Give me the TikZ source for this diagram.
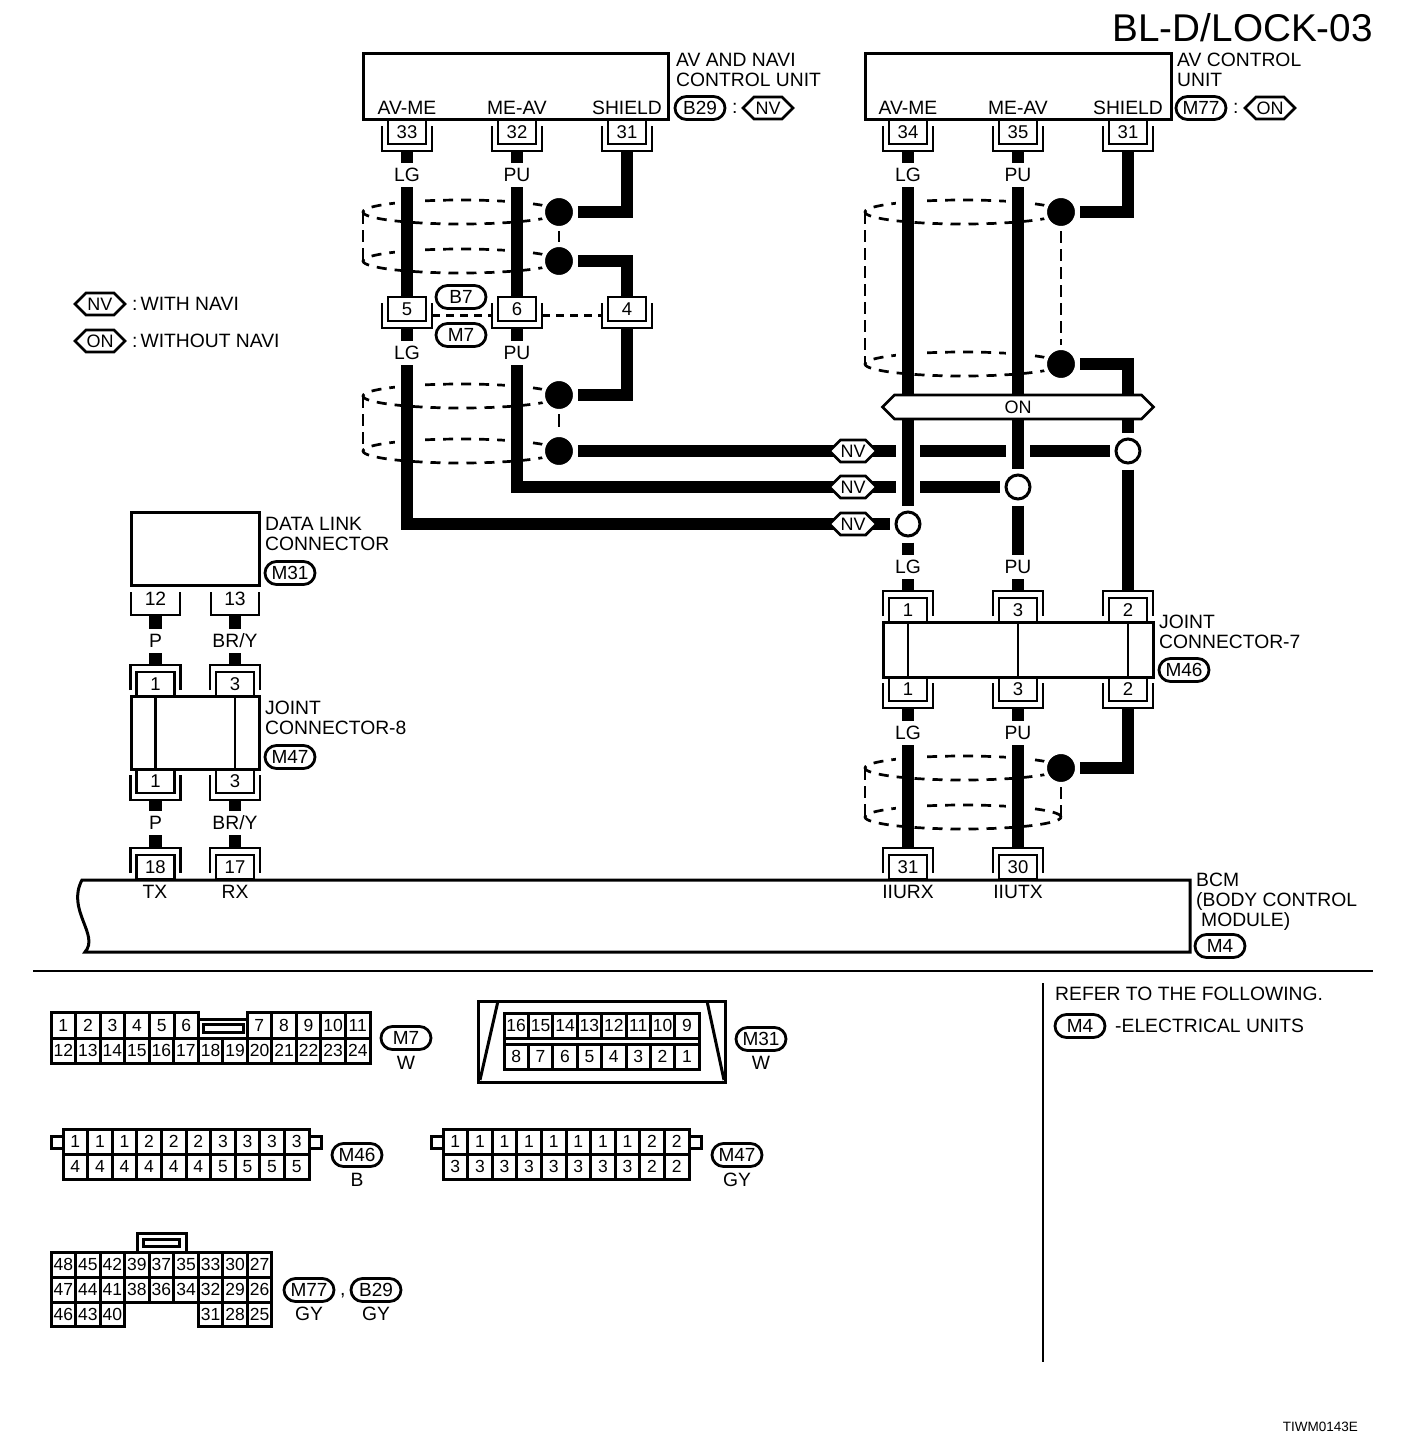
\documentclass[tikz,border=0pt]{standalone}
\usepackage{fontspec}
\setmainfont{Liberation Sans}
\usetikzlibrary{shapes.misc,shapes.symbols}
\pgfdeclarelayer{paper}
\pgfdeclarelayer{shields}
\pgfdeclarelayer{wires}
\pgfsetlayers{paper,shields,wires,main}
\tikzset{
  lab/.style={font=\fontsize{19.3}{19.7}\selectfont,inner sep=0pt,text height=13.8pt,text depth=0pt},
  txt/.style={lab,anchor=west},
  multi/.style={font=\fontsize{19.3}{19.7}\selectfont,inner sep=0pt,align=left,anchor=north west},
  wl/.style={lab,minimum height=24pt},
  unitbox/.style={draw,line width=3pt,outer sep=0pt,inner sep=0pt,anchor=north west},
  pinbox/.style={draw,line width=2.8pt,outer sep=0pt,inner sep=0pt,minimum width=38pt,minimum height=24pt,
     font=\fontsize{18.5}{20}\selectfont,text height=13pt,text depth=0pt},
  pinline/.style={line width=2.8pt,miter limit=10},
  wire/.style={line width=12.5pt,line join=miter},
  shieldline/.style={line width=2.7pt,dash pattern=on 10pt off 8pt},
  shieldrun/.style={line width=2.7pt,dash pattern=on 12pt off 6pt},
  blackdot/.style={circle,fill=black,draw=white,line width=4pt,minimum size=32pt,inner sep=0pt,outer sep=3pt},
  opendot/.style={circle,fill=white,draw=black,line width=3pt,minimum size=24pt,inner sep=0pt,outer sep=6.5pt},
  ovaltag/.style={draw,rounded rectangle,line width=2.8pt,minimum width=50pt,minimum height=23pt,inner sep=0pt,
     font=\fontsize{19}{20}\selectfont,text height=13.6pt,text depth=0pt},
  flag/.style={draw,fill=white,signal,signal to=east and west,signal pointer angle=90,line width=2.8pt,
     inner sep=0pt,font=\fontsize{18}{20}\selectfont,text height=13pt,text depth=0pt},
  cellbox/.style={draw,line width=3pt,outer sep=0pt,inner sep=0pt,
     font=\fontsize{17.5}{20}\selectfont,text height=12.6pt,text depth=0pt},
  frameline/.style={line width=3pt},
}
\newcommand{\pinD}[4]{% name, x, top y, label
  \node[pinbox,anchor=north] (#1) at (#2,#3) {#4};
  \draw[pinline] (#2-25,#3+6) -- (#2-25,#3+31) -- (#2+25,#3+31) -- (#2+25,#3+6);
  \coordinate (#1b) at (#2,#3+31);}
\newcommand{\pinT}[4]{% name, x, bottom y, label
  \node[pinbox,anchor=south] (#1) at (#2,#3) {#4};
  \draw[pinline] (#2-25,#3-6) -- (#2-25,#3-31) -- (#2+25,#3-31) -- (#2+25,#3-6);
  \coordinate (#1t) at (#2,#3-31);}
\newcommand{\ring}[4]{% centre x, centre y, wire x, wire x
  \begin{pgfonlayer}{shields}
  \draw[shieldline] (#1,#2) ellipse [x radius=98pt,y radius=12pt];
  \fill[white] (#3-12,#2-15) rectangle (#3+12,#2-6);
  \fill[white] (#4-12,#2-15) rectangle (#4+12,#2-6);
  \end{pgfonlayer}}
\newcommand{\cellrow}[6]{% prefix, x0, y0, w, h, list
  \foreach \n [count=\i from 0] in {#6}{
    \node[cellbox,minimum width=#4pt,minimum height=#5pt,anchor=north west] (#1\i) at ({#2+\i*#4},#3) {\n};}}
\begin{document}
\begin{tikzpicture}[x=1pt,y=-1pt]
\useasboundingbox (0,0) rectangle (1408,1446);
\begin{pgfonlayer}{paper}\fill[white] (0,0) rectangle (1408,1446);\end{pgfonlayer}

% title
\node[inner sep=0pt,anchor=east,font=\fontsize{38.7}{40}\selectfont,text height=27.7pt,text depth=0pt] (title) at (1373,28) {BL-D/LOCK-03};

% units
\node[unitbox,minimum width=305pt,minimum height=66pt] (u1) at (363,53) {};
\node[unitbox,minimum width=306pt,minimum height=66pt] (u2) at (865,53) {};
\node[lab] (u1a) at (407,108) {AV-ME};
\node[lab] (u1b) at (517,108) {ME-AV};
\node[lab] (u1c) at (627,108) {SHIELD};
\node[lab] (u2a) at (908,108) {AV-ME};
\node[lab] (u2b) at (1018,108) {ME-AV};
\node[lab] (u2c) at (1128,108) {SHIELD};
\node[multi] (u1t) at (676,53) {AV AND NAVI\\CONTROL UNIT};
\node[multi] (u2t) at (1177,53) {AV CONTROL\\UNIT};
\node[ovaltag] (tb29) at (700,108) {B29};
\node[txt] (c1) at (732,107) {:};
\node[flag,minimum width=50pt,minimum height=22pt] (fnv) at (768,108) {NV};
\node[ovaltag] (tm77) at (1201,108) {M77};
\node[txt] (c2) at (1233,107) {:};
\node[flag,minimum width=50pt,minimum height=22pt] (fon) at (1270,108) {ON};

% legend
\node[flag,minimum width=50pt,minimum height=22pt] (lnv) at (100,304) {NV};
\node[txt] (lnvt) at (132,304) {:\hspace{3pt}WITH NAVI};
\node[flag,minimum width=50pt,minimum height=22pt] (lon) at (100,341) {ON};
\node[txt] (lont) at (132,341) {:\hspace{3pt}WITHOUT NAVI};

% pins, left group
\pinD{p33}{407}{120}{33}
\pinD{p32}{517}{120}{32}
\pinD{p31a}{627}{120}{31}
\pinD{p5}{407}{297}{5}
\pinD{p6}{517}{297}{6}
\pinD{p4}{627}{297}{4}
\node[ovaltag] (tb7) at (461,297) {B7};
\node[ovaltag] (tm7) at (461,335) {M7};
\draw[line width=3pt,dash pattern=on 8pt off 6pt] ([xshift=6pt,yshift=-6pt]p5.east) -- ([xshift=-6pt,yshift=-6pt]p6.west);
\draw[line width=3pt,dash pattern=on 8pt off 6pt] ([xshift=6pt,yshift=-6pt]p6.east) -- ([xshift=-6pt,yshift=-6pt]p4.west);

% pins, right group
\pinD{p34}{908}{120}{34}
\pinD{p35}{1018}{120}{35}
\pinD{p31b}{1128}{120}{31}

% joint connector 7
\node[unitbox,minimum width=270pt,minimum height=55pt] (j7) at (883,622) {};
\draw[line width=2pt] (908,622) -- (908,677) (1018,622) -- (1018,677);
\draw[line width=2.6pt] (1128,622) -- (1128,677);
\pinT{j7t1}{908}{622}{1}
\pinT{j7t3}{1018}{622}{3}
\pinT{j7t2}{1128}{622}{2}
\pinD{j7b1}{908}{677}{1}
\pinD{j7b3}{1018}{677}{3}
\pinD{j7b2}{1128}{677}{2}
\node[multi] (j7l) at (1159,615) {JOINT\\CONNECTOR-7};
\node[ovaltag] (tm46) at (1184,670) {M46};

% BCM
\draw[line width=3pt] (85,952) .. controls (100,935) and (66,910) .. (82,880) -- (1190,880) -- (1190,952) -- cycle;
\pinT{b31}{908}{879}{31}
\pinT{b30}{1018}{879}{30}
\pinT{b18}{155.5}{879}{18}
\pinT{b17}{235}{879}{17}
\node[lab] (tx) at (155,892) {TX};
\node[lab] (rx) at (235,892) {RX};
\node[lab] (iurx) at (908,892) {IIURX};
\node[lab] (iutx) at (1018,892) {IIUTX};
\node[multi] (bcmt) at (1196,873) {BCM\\(BODY CONTROL\\\hspace*{5pt}MODULE)};
\node[ovaltag] (tm4) at (1220,946) {M4};

% data link connector
\node[unitbox,minimum width=128pt,minimum height=73pt] (dl) at (131,512) {};
\node[multi] (dlt) at (265,517) {DATA LINK\\CONNECTOR};
\node[ovaltag] (tm31) at (290,573) {M31};
\node[lab] (dl12) at (155.5,599) {12};
\node[lab] (dl13) at (235,599) {13};
\draw[pinline] (131,592) -- (131,615) -- (180,615) -- (180,592);
\draw[pinline] (211,592) -- (211,615) -- (259,615) -- (259,592);
\coordinate (dl12b) at (155.5,615);
\coordinate (dl13b) at (235,615);

% joint connector 8
\node[unitbox,minimum width=128pt,minimum height=73pt] (j8) at (131,696) {};
\draw[line width=2.6pt] (155.5,696) -- (155.5,769) (235,696) -- (235,769);
\pinT{j8t1}{155.5}{696}{1}
\pinT{j8t3}{235}{696}{3}
\pinD{j8b1}{155.5}{769}{1}
\pinD{j8b3}{235}{769}{3}
\node[multi] (j8l) at (265,701) {JOINT\\CONNECTOR-8};
\node[ovaltag] (tm47) at (290,757) {M47};

% wire colour labels
\node[wl] (l1) at (407,175) {LG};
\node[wl] (l2) at (517,175) {PU};
\node[wl] (l3) at (407,353) {LG};
\node[wl] (l4) at (517,353) {PU};
\node[wl] (r1) at (908,175) {LG};
\node[wl] (r2) at (1018,175) {PU};
\node[wl] (r3) at (908,567) {LG};
\node[wl] (r4) at (1018,567) {PU};
\node[wl] (r5) at (908,733) {LG};
\node[wl] (r6) at (1018,733) {PU};
\node[wl] (w1) at (155.5,641) {P};
\node[wl] (w2) at (235,641) {BR/Y};
\node[wl] (w3) at (155.5,823) {P};
\node[wl] (w4) at (235,823) {BR/Y};

% shield splices
\node[blackdot] (d1) at (559,212) {};
\node[blackdot] (d2) at (559,261) {};
\node[blackdot] (d3) at (559,395) {};
\node[blackdot] (d4) at (559,451) {};
\node[blackdot] (d5) at (1061,212) {};
\node[blackdot] (d6) at (1061,364) {};
\node[blackdot] (d7) at (1061,768) {};
\node[opendot] (o1) at (908,524) {};
\node[opendot] (o2) at (1018,487) {};
\node[opendot] (o3) at (1128,451) {};
\node[flag,minimum width=47pt,minimum height=22pt] (nv1) at (853,451) {NV};
\node[flag,minimum width=47pt,minimum height=22pt] (nv2) at (853,487) {NV};
\node[flag,minimum width=47pt,minimum height=22pt] (nv3) at (853,524) {NV};
\node[flag,minimum width=271pt,minimum height=24pt] (onf) at (1018,407) {ON};

\coordinate (g1a) at (896,451);
\coordinate (g1b) at (920,451);
\coordinate (g1c) at (1006,451);
\coordinate (g1d) at (1030,451);
\coordinate (g2a) at (896,487);
\coordinate (g2b) at (920,487);

% shields
\ring{461}{212}{407}{517}
\ring{461}{261}{407}{517}
\ring{461}{396}{407}{517}
\ring{461}{451}{407}{517}
\ring{963}{212}{908}{1018}
\ring{963}{364}{908}{1018}
\ring{963}{768}{908}{1018}
\ring{963}{817}{908}{1018}
\begin{pgfonlayer}{shields}
\draw[shieldrun] (363,212) -- (363,261);
\draw[shieldrun] (363,396) -- (363,451);
\draw[shieldrun] (865,212) -- (865,364);
\draw[shieldrun] (865,768) -- (865,817);
\end{pgfonlayer}
\draw[line width=2.8pt] (d1.south) -- (d2.north);
\draw[line width=2.8pt,shorten >=5pt] (d3.south) -- (d4.north);
\draw[shieldrun] (d5.south) -- (d6.north);
\coordinate (d7e) at (1061,820);
\draw[shieldrun] (d7.south) -- (d7e);

% wires
\begin{pgfonlayer}{wires}
\draw[wire] (p33b) -- (l1.north);
\draw[wire] (l1.south) -- (p5.north);
\draw[wire] (p32b) -- (l2.north);
\draw[wire] (l2.south) -- (p6.north);
\draw[wire] (d1.east) -| (p31ab);
\draw[wire] (d2.east) -| (p4.north);
\draw[wire] (d3.east) -| (p4b);
\draw[wire] (p5b) -- (l3.north);
\draw[wire] (p6b) -- (l4.north);
\draw[wire] (l3.south) |- (nv3.center);
\draw[wire] (l4.south) |- (nv2.center);
\draw[wire] (d4.east) -- (nv1.center);
\draw[wire] (nv1.center) -- (g1a);
\draw[wire] (g1b) -- (g1c);
\draw[wire] (g1d) -- (o3.west);
\draw[wire] (nv2.center) -- (g2a);
\draw[wire] (g2b) -- (o2.west);
\draw[wire] (nv3.center) -- (o1.west);
\draw[wire] (p34b) -- (r1.north);
\draw[wire] (r1.south) -- (o1.north);
\draw[wire] (o1.south) -- (r3.north);
\draw[wire] (r3.south) -- (j7t1t);
\draw[wire] (p35b) -- (r2.north);
\draw[wire] (r2.south) -- (o2.north);
\draw[wire] (o2.south) -- (r4.north);
\draw[wire] (r4.south) -- (j7t3t);
\draw[wire] (d5.east) -| (p31bb);
\draw[wire] (d6.east) -| (o3.north);
\draw[wire] (o3.south) -- (j7t2t);
\draw[wire] (j7b1b) -- (r5.north);
\draw[wire] (r5.south) -- (b31t);
\draw[wire] (j7b3b) -- (r6.north);
\draw[wire] (r6.south) -- (b30t);
\draw[wire] (d7.east) -| (j7b2b);
\draw[wire] (dl12b) -- (w1.north);
\draw[wire] (w1.south) -- (j8t1t);
\draw[wire] (dl13b) -- (w2.north);
\draw[wire] (w2.south) -- (j8t3t);
\draw[wire] (j8b1b) -- (w3.north);
\draw[wire] (w3.south) -- (b18t);
\draw[wire] (j8b3b) -- (w4.north);
\draw[wire] (w4.south) -- (b17t);
\end{pgfonlayer}

% rules and notes
\coordinate (ra) at (33,971);
\coordinate (rb) at (1373,971);
\coordinate (rc) at (1043,983);
\coordinate (rd) at (1043,1362);
\draw[line width=2pt] (ra) -- (rb);
\draw[line width=2pt] (rc) -- (rd);
\node[txt] (ref) at (1055,994) {REFER TO THE FOLLOWING.};
\node[ovaltag] (tm4b) at (1080,1026) {M4};
\node[txt] (refb) at (1115,1026) {-ELECTRICAL UNITS};
\node[inner sep=0pt,anchor=east,font=\fontsize{13.5}{14}\selectfont] (code) at (1358,1427) {TIWM0143E};

% connector M7
\draw[frameline] (199,1019) -- (247,1019);
\draw[frameline] (203,1024) rectangle (243,1032);
\cellrow{m7a}{51}{1012}{24.6}{26}{1,2,3,4,5,6}
\cellrow{m7b}{247}{1012}{24.6}{26}{7,8,9,10,11}
\cellrow{m7c}{51}{1038}{24.54}{25}{12,13,14,15,16,17,18,19,20,21,22,23,24}
\node[ovaltag] (sm7) at (406,1038) {M7};
\node[lab] (sm7c) at (406,1063) {W};

% connector M31
\draw[line width=3pt] (478,1001) rectangle (725,1082);
\draw[frameline] (498,1001) -- (480,1080);
\draw[frameline] (707,1001) -- (724,1080);
\draw[frameline] (504,1013) rectangle (699.2,1069);
\cellrow{m31a}{504}{1013}{24.4}{25}{16,15,14,13,12,11,10,9}
\cellrow{m31b}{504}{1044}{24.4}{25}{8,7,6,5,4,3,2,1}
\node[ovaltag] (sm31) at (761,1039) {M31};
\node[lab] (sm31c) at (761,1063) {W};

% connector M46
\draw[frameline] (63,1136) -- (51,1136) -- (51,1148) -- (63,1148);
\draw[frameline] (309,1136) -- (321,1136) -- (321,1148) -- (309,1148);
\cellrow{m46a}{63}{1129}{24.6}{25}{1,1,1,2,2,2,3,3,3,3}
\cellrow{m46b}{63}{1154}{24.6}{25}{4,4,4,4,4,4,5,5,5,5}
\node[ovaltag] (sm46) at (357,1155) {M46};
\node[lab] (sm46c) at (357,1180) {B};

% connector M47
\draw[frameline] (443,1136) -- (431,1136) -- (431,1148) -- (443,1148);
\draw[frameline] (689,1136) -- (701,1136) -- (701,1148) -- (689,1148);
\cellrow{m47a}{443}{1129}{24.6}{25}{1,1,1,1,1,1,1,1,2,2}
\cellrow{m47b}{443}{1154}{24.6}{25}{3,3,3,3,3,3,3,3,2,2}
\node[ovaltag] (sm47) at (737,1155) {M47};
\node[lab] (sm47c) at (737,1180) {GY};

% connector M77 / B29
\draw[frameline] (137,1252) -- (137,1233) -- (186,1233) -- (186,1252);
\draw[frameline] (143,1239) rectangle (179,1246);
\cellrow{g1}{51}{1252}{24.55}{25}{48,45,42,39,37,35,33,30,27}
\cellrow{g2}{51}{1277}{24.55}{25}{47,44,41,38,36,34,32,29,26}
\cellrow{g3}{51}{1302}{24.55}{24.5}{46,43,40}
\cellrow{g4}{198.3}{1302}{24.55}{24.5}{31,28,25}
\node[ovaltag] (sm77) at (309,1290) {M77};
\node[txt] (scomma) at (340,1289) {,};
\node[ovaltag] (sb29) at (376,1290) {B29};
\node[lab] (sm77c) at (309,1314) {GY};
\node[lab] (sb29c) at (376,1314) {GY};
\end{tikzpicture}
\end{document}
